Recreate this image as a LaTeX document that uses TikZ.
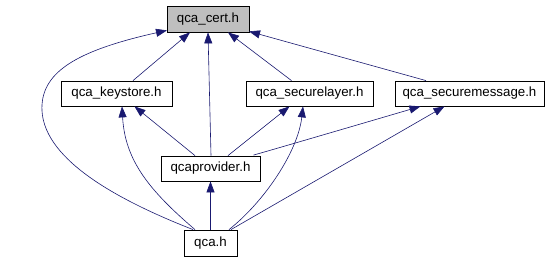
\documentclass[tikz,border=0pt]{standalone}
\usepackage{fontspec}
\setmainfont{Liberation Sans}
\usetikzlibrary{arrows.meta}
\definecolor{edgeblue}{RGB}{25,25,112}
\definecolor{hdrgray}{RGB}{191,191,191}
\tikzset{
  hdr/.style={draw=black, line width=0.8pt, minimum height=25pt, inner sep=0pt,
    font=\fontsize{13.3}{14}\selectfont},
  dep/.style={draw=edgeblue, line width=0.6pt,
    -{Triangle[length=11pt,width=8pt]}},
}
\begin{document}
\begin{tikzpicture}[x=1pt,y=1pt]
\useasboundingbox (0,0) rectangle (552,261);
% header nodes
\node[hdr, fill=hdrgray, minimum width=82pt, minimum height=26pt] (cert) at (208,242) {qca\_cert.h};
\node[hdr, minimum width=111pt] (keystore) at (116.5,167.5) {qca\_keystore.h};
\node[hdr, minimum width=127pt] (securelayer) at (309.5,167.5) {qca\_securelayer.h};
\node[hdr, minimum width=149pt] (securemessage) at (469.5,167.5) {qca\_securemessage.h};
\node[hdr, minimum width=99pt] (provider) at (210.5,92.5) {qcaprovider.h};
\node[hdr, minimum width=53pt, minimum height=26pt] (qca) at (210.5,18) {qca.h};
% anchor points on box edges
\coordinate (qcaA) at ([xshift=-17.5pt]qca.north);
\coordinate (qcaB) at ([xshift=-15.5pt]qca.north);
\coordinate (qcaC) at ([xshift=18.5pt]qca.north);
\coordinate (qcaD) at ([xshift=20.5pt]qca.north);
\coordinate (certA) at ([xshift=-41pt,yshift=2pt]cert.south);
% dependencies on qca_cert.h
\draw[dep] (qcaA) .. controls (120,60) and (45,100) .. (42,150)
                  .. controls (40,188) and (75,210) .. (certA);
\draw[dep] ([xshift=16.5pt]keystore.north) -- ([xshift=-18pt]cert.south);
\draw[dep] ([xshift=0.5pt]provider.north) -- (cert.south);
\draw[dep] ([xshift=-18pt]securelayer.north) -- ([xshift=20pt]cert.south);
\draw[dep] ([xshift=-43.5pt]securemessage.north) -- ([xshift=41pt,yshift=1pt]cert.south);
% dependencies of qcaprovider.h
\draw[dep] ([xshift=-15.5pt]provider.north) -- ([xshift=18pt]keystore.south);
\draw[dep] ([xshift=17.5pt]provider.north) -- ([xshift=-20pt]securelayer.south);
\draw[dep] ([xshift=43pt,yshift=0.5pt]provider.north) .. controls (275,112) and (340,131) .. ([xshift=-49pt]securemessage.south);
% dependencies of qca.h
\draw[dep] (qcaB) .. controls (150,70) and (125,100) .. ([xshift=5.5pt]keystore.south);
\draw[dep] (qcaC) .. controls (265,60) and (298,110) .. ([xshift=-6.5pt]securelayer.south);
\draw[dep] (qcaD) -- ([xshift=-25pt]securemessage.south);
\draw[dep] (qca.north) -- (provider.south);
\end{tikzpicture}
\end{document}
